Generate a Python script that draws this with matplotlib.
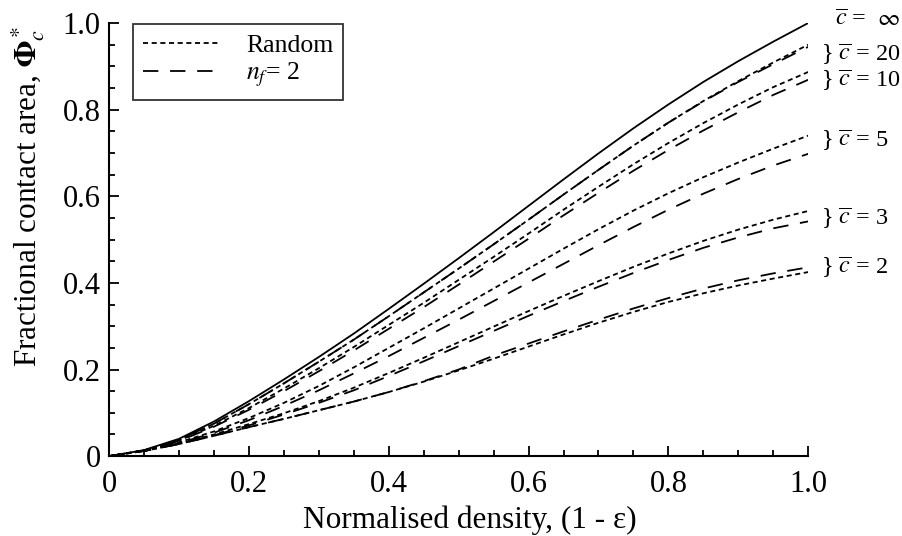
import matplotlib.pyplot as plt
from matplotlib.ticker import MultipleLocator, FuncFormatter

plt.rcParams['font.family'] = ['Liberation Serif', 'DejaVu Serif']
plt.rcParams['mathtext.fontset'] = 'stix'

# normalised density (1 - eps)
density = [0, 0.05, 0.1, 0.15, 0.2, 0.25, 0.3, 0.35, 0.4, 0.45, 0.5,
           0.55, 0.6, 0.65, 0.7, 0.75, 0.8, 0.85, 0.9, 0.95, 1.0]

# c = infinity (solid)
phi_inf = [0, 0.014, 0.040, 0.080, 0.127, 0.177, 0.229, 0.283, 0.340, 0.398, 0.457,
           0.517, 0.578, 0.639, 0.699, 0.757, 0.812, 0.864, 0.912, 0.957, 1.0]

# random orientation
rand_c20 = [0, 0.013, 0.038, 0.075, 0.120, 0.168, 0.218, 0.269, 0.323, 0.378, 0.433,
            0.489, 0.546, 0.604, 0.661, 0.717, 0.770, 0.820, 0.866, 0.909, 0.950]
rand_c10 = [0, 0.013, 0.036, 0.070, 0.111, 0.156, 0.203, 0.252, 0.303, 0.354, 0.407,
            0.460, 0.514, 0.569, 0.622, 0.674, 0.723, 0.769, 0.812, 0.852, 0.887]
rand_c5 = [0, 0.013, 0.032, 0.057, 0.088, 0.123, 0.162, 0.205, 0.250, 0.295, 0.341,
           0.387, 0.433, 0.479, 0.524, 0.567, 0.607, 0.644, 0.678, 0.710, 0.740]
rand_c3 = [0, 0.012, 0.029, 0.050, 0.074, 0.099, 0.127, 0.158, 0.192, 0.227, 0.263,
           0.299, 0.335, 0.370, 0.404, 0.437, 0.468, 0.497, 0.523, 0.546, 0.566]
rand_c2 = [0, 0.012, 0.028, 0.047, 0.067, 0.086, 0.106, 0.126, 0.148, 0.172, 0.198,
           0.225, 0.253, 0.281, 0.308, 0.333, 0.356, 0.376, 0.394, 0.410, 0.425]

# n_f = 2
nf_c20 = [0, 0.013, 0.038, 0.075, 0.120, 0.168, 0.218, 0.269, 0.323, 0.378, 0.433,
          0.489, 0.546, 0.604, 0.661, 0.717, 0.770, 0.819, 0.864, 0.905, 0.945]
nf_c10 = [0, 0.013, 0.035, 0.068, 0.107, 0.150, 0.196, 0.244, 0.294, 0.344, 0.396,
          0.449, 0.502, 0.556, 0.608, 0.659, 0.707, 0.752, 0.794, 0.834, 0.869]
nf_c5 = [0, 0.012, 0.030, 0.054, 0.083, 0.116, 0.152, 0.191, 0.231, 0.273, 0.315,
         0.358, 0.401, 0.444, 0.487, 0.529, 0.569, 0.606, 0.640, 0.671, 0.698]
nf_c3 = [0, 0.012, 0.028, 0.048, 0.071, 0.096, 0.123, 0.152, 0.185, 0.219, 0.254,
         0.289, 0.324, 0.358, 0.391, 0.423, 0.453, 0.481, 0.505, 0.526, 0.542]
nf_c2 = [0, 0.012, 0.028, 0.047, 0.067, 0.086, 0.106, 0.126, 0.148, 0.173, 0.200,
         0.232, 0.260, 0.288, 0.315, 0.341, 0.365, 0.387, 0.406, 0.422, 0.436]

labels = [r'$\overline{c}$ =  $\infty$', r'} $\overline{c}$ = 20', r'} $\overline{c}$ = 10',
          r'} $\overline{c}$ = 5', r'} $\overline{c}$ = 3', r'} $\overline{c}$ = 2']
label_x = [1.038, 1.018, 1.018, 1.018, 1.018, 1.018]
label_y = [1.005, 0.93, 0.87, 0.73, 0.552, 0.437]

fig = plt.figure(figsize=(9.02, 5.36), dpi=100)
ax = fig.add_axes([0.121, 0.149, 0.775, 0.808])

lw = 1.3
short = (2.8, 2.0)
long_ = (8.5, 6.5)

ax.plot(density, phi_inf, color='black', lw=lw)
for r in [rand_c20, rand_c10, rand_c5, rand_c3, rand_c2]:
    ax.plot(density, r, color='black', lw=lw, dashes=short)
for n in [nf_c20, nf_c10, nf_c5, nf_c3, nf_c2]:
    ax.plot(density, n, color='black', lw=lw, dashes=long_)

# legend proxies
h1, = ax.plot([], [], color='black', lw=lw, dashes=short, label='Random')
h2, = ax.plot([], [], color='black', lw=lw, dashes=long_, label=r'$n_f$= 2')
leg = ax.legend(handles=[h1, h2], loc='upper left', bbox_to_anchor=(0.034, 0.998),
                borderaxespad=0, fontsize=18.5, frameon=True, fancybox=False,
                edgecolor='black', handlelength=3.0, handletextpad=1.0,
                labelspacing=0.15, borderpad=0.4)
leg.get_frame().set_linewidth(1.3)

for text, xx, yy in zip(labels, label_x, label_y):
    ax.text(xx, yy, text, fontsize=17.5, va='center', ha='left', clip_on=False)

ax.set_xlim(0, 1.0)
ax.set_ylim(0, 1.0)
ax.spines['top'].set_visible(False)
ax.spines['right'].set_visible(False)
ax.spines['left'].set_linewidth(1.5)
ax.spines['bottom'].set_linewidth(1.5)

ax.xaxis.set_major_locator(MultipleLocator(0.2))
ax.xaxis.set_minor_locator(MultipleLocator(0.05))
ax.yaxis.set_major_locator(MultipleLocator(0.2))
ax.yaxis.set_minor_locator(MultipleLocator(0.05))
fmt = FuncFormatter(lambda v, p: '0' if abs(v) < 1e-9 else f'{v:.1f}')
ax.xaxis.set_major_formatter(fmt)
ax.yaxis.set_major_formatter(fmt)
ax.tick_params(which='both', direction='in', width=1.3, labelsize=22)
ax.tick_params(which='major', length=7)
ax.tick_params(which='minor', length=4)
ax.tick_params(axis='x', which='major', pad=10)
ax.tick_params(axis='y', which='major', pad=6)

ax.set_xlabel('Normalised density, (1 - ε)', fontsize=22.5)
ax.set_ylabel(r'Fractional contact area, $\mathbf{\Phi}_c^*$', fontsize=22.5)
ax.xaxis.set_label_coords(0.516, -0.115)
ax.yaxis.set_label_coords(-0.089, 0.6)

fig.savefig('out.png', dpi=100)
